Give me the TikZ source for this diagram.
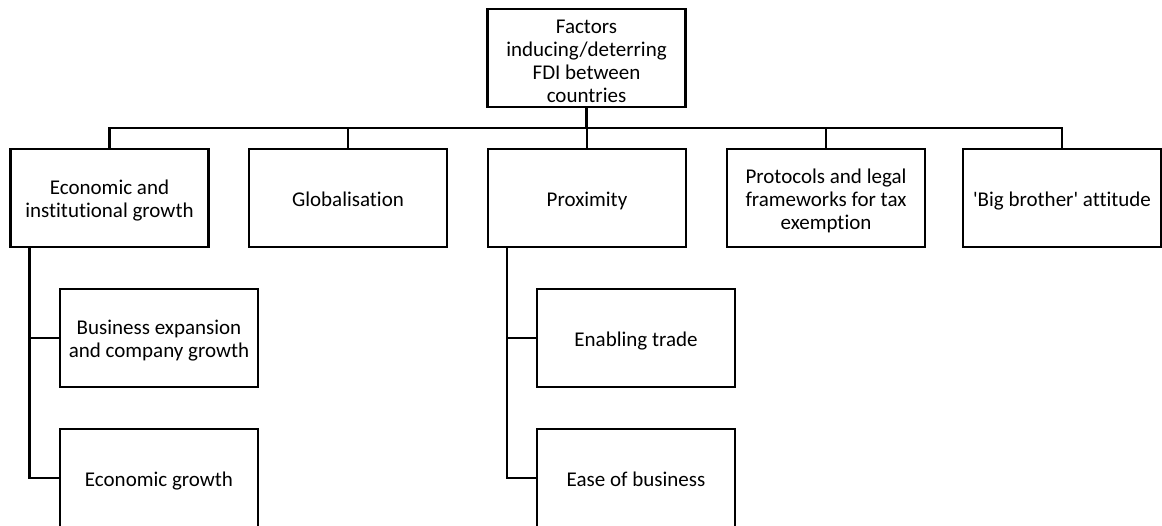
\documentclass[tikz,border=0pt]{standalone}
\usepackage{fontspec}
\setmainfont{Carlito}[Ligatures=NoCommon]
\newcommand{\boxlines}[2][3.5pt]{\raisebox{-#1}[\height][\depth]{\begin{tabular}{@{}c@{}}#2\end{tabular}}}
\tikzset{
  factorbox/.style={draw, line width=2.4pt, minimum width=198pt, minimum height=98pt,
    inner sep=2pt, font=\fontsize{21}{23}\selectfont},
  linkline/.style={line width=2.4pt}
}
\begin{document}
\begin{tikzpicture}[x=1pt,y=-1pt]
                    \useasboundingbox (0,0) rectangle (1162,526);
                    {

                    % Marking the root box
                    \node [factorbox] (root) at (586.5,58) {\boxlines[5.5pt]{Factors\\inducing/deterring\\FDI between\\countries}};%

                    % Marking the first row of factors
                    \node [factorbox] (econ) at (109.5,198) {\boxlines{Economic and\\institutional growth}};%
                    \node [factorbox] (glob) at (348,198) {\boxlines{Globalisation}};%
                    \node [factorbox] (prox) at (587,198) {\boxlines{Proximity}};%
                    \node [factorbox] (prot) at (826,198) {\boxlines{Protocols and legal\\frameworks for tax\\exemption}};%
                    \node [factorbox] (bigb) at (1062,198) {\boxlines{\textquotesingle Big brother\textquotesingle{} attitude}};%

                    % Marking the boxes under econ
                    \node [factorbox] (bizexp) at (159,338) {\boxlines{Business expansion\\and company growth}};%
                    \node [factorbox] (ecogr) at (159,478) {\boxlines{Economic growth}};%

                    % Marking the boxes under prox
                    \node [factorbox] (trade) at (636,338) {\boxlines{Enabling trade}};%
                    \node [factorbox] (ease) at (636,478) {\boxlines{Ease of business}};%

                    % Drawing the bus from root to the first row
                    \coordinate (hub) at (586.5,128);%
                    \draw [linkline] (root.south) -- (hub);%
                    \foreach \kid in {econ,glob,prox,prot,bigb}
                      \draw [linkline] (hub) -| (\kid.north);%

                    % Drawing the spine of econ
                    \draw [linkline] ([xshift=20pt]econ.south west) |- (bizexp.west);%
                    \draw [linkline] ([xshift=20pt]econ.south west) |- (ecogr.west);%

                    % Drawing the spine of prox
                    \draw [linkline] ([xshift=20pt]prox.south west) |- (trade.west);%
                    \draw [linkline] ([xshift=20pt]prox.south west) |- (ease.west);%
                    }
\end{tikzpicture}
\end{document}
